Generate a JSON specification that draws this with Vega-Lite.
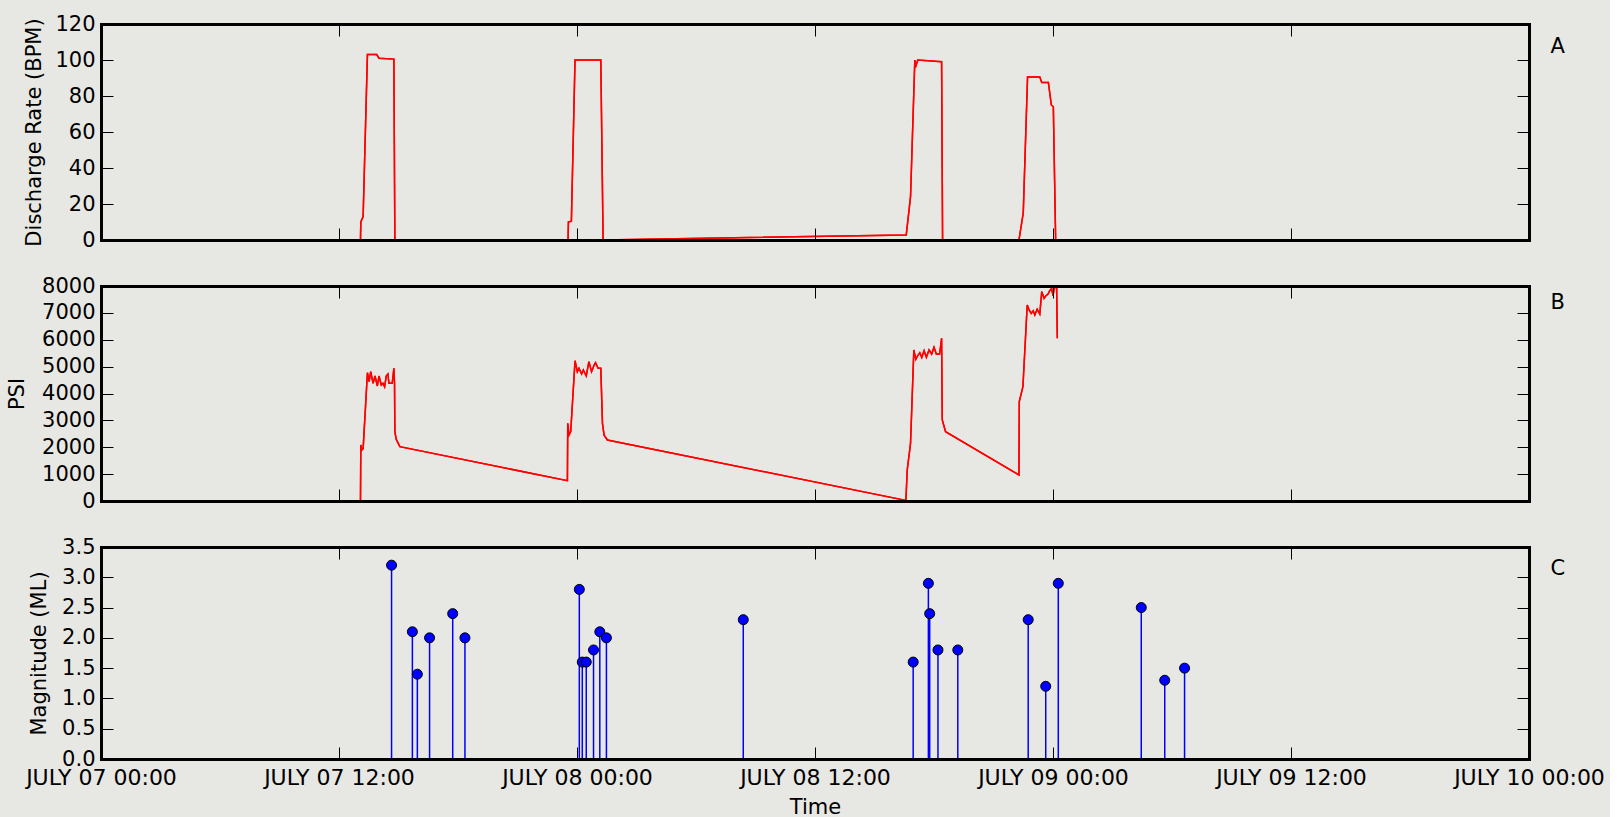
{
  "$schema": "https://vega.github.io/schema/vega-lite/v6.json",
  "background": "#e7e7e3",
  "padding": {"left": 6, "top": 13, "right": 5, "bottom": 2},
  "bounds": "flush",
  "spacing": 46,
  "config": {
    "font": "DejaVu Sans",
    "view": {"stroke": null},
    "axis": {
      "domain": true, "domainColor": "black", "domainWidth": 3, "domainCap": "square",
      "grid": false, "tickColor": "black", "tickSize": -12, "tickWidth": 1,
      "labelFontSize": 21, "titleFontSize": 21, "titleFontWeight": "normal",
      "labelColor": "black", "titleColor": "black", "labelPadding": 18,
      "labelFont": "DejaVu Sans", "titleFont": "DejaVu Sans"
    }
  },
  "datasets": {
    "rate": [
      {"time": "2014-07-07T13:05Z", "bpm": 0},
      {"time": "2014-07-07T13:06Z", "bpm": 10},
      {"time": "2014-07-07T13:13Z", "bpm": 13},
      {"time": "2014-07-07T13:26Z", "bpm": 103},
      {"time": "2014-07-07T13:54Z", "bpm": 103},
      {"time": "2014-07-07T14:01Z", "bpm": 101},
      {"time": "2014-07-07T14:46Z", "bpm": 100.5},
      {"time": "2014-07-07T14:49Z", "bpm": 0},
      {"time": "2014-07-07T23:33Z", "bpm": 0},
      {"time": "2014-07-07T23:34Z", "bpm": 10},
      {"time": "2014-07-07T23:43Z", "bpm": 10.5},
      {"time": "2014-07-07T23:54Z", "bpm": 100},
      {"time": "2014-07-08T01:12Z", "bpm": 100},
      {"time": "2014-07-08T01:19Z", "bpm": 0},
      {"time": "2014-07-08T16:36Z", "bpm": 2.8},
      {"time": "2014-07-08T16:49Z", "bpm": 24},
      {"time": "2014-07-08T17:02Z", "bpm": 100},
      {"time": "2014-07-08T17:04Z", "bpm": 96},
      {"time": "2014-07-08T17:11Z", "bpm": 100},
      {"time": "2014-07-08T18:23Z", "bpm": 99},
      {"time": "2014-07-08T18:26Z", "bpm": 0},
      {"time": "2014-07-08T22:17Z", "bpm": 0},
      {"time": "2014-07-08T22:30Z", "bpm": 15},
      {"time": "2014-07-08T22:43Z", "bpm": 90.5},
      {"time": "2014-07-08T23:20Z", "bpm": 90.5},
      {"time": "2014-07-08T23:26Z", "bpm": 87.5},
      {"time": "2014-07-08T23:46Z", "bpm": 87.5},
      {"time": "2014-07-08T23:55Z", "bpm": 75},
      {"time": "2014-07-09T00:01Z", "bpm": 74},
      {"time": "2014-07-09T00:08Z", "bpm": 0}
    ],
    "pressure": [
      {"time": "2014-07-07T13:05Z", "psi": 0},
      {"time": "2014-07-07T13:06Z", "psi": 2084},
      {"time": "2014-07-07T13:09Z", "psi": 1900},
      {"time": "2014-07-07T13:13Z", "psi": 1950},
      {"time": "2014-07-07T13:26Z", "psi": 4775},
      {"time": "2014-07-07T13:31Z", "psi": 4440},
      {"time": "2014-07-07T13:36Z", "psi": 4812},
      {"time": "2014-07-07T13:43Z", "psi": 4378},
      {"time": "2014-07-07T13:49Z", "psi": 4651},
      {"time": "2014-07-07T13:56Z", "psi": 4279},
      {"time": "2014-07-07T14:01Z", "psi": 4651},
      {"time": "2014-07-07T14:08Z", "psi": 4316},
      {"time": "2014-07-07T14:13Z", "psi": 4378},
      {"time": "2014-07-07T14:18Z", "psi": 4253},
      {"time": "2014-07-07T14:23Z", "psi": 4651},
      {"time": "2014-07-07T14:28Z", "psi": 4726},
      {"time": "2014-07-07T14:31Z", "psi": 4378},
      {"time": "2014-07-07T14:41Z", "psi": 4378},
      {"time": "2014-07-07T14:46Z", "psi": 4936},
      {"time": "2014-07-07T14:48Z", "psi": 4378},
      {"time": "2014-07-07T14:49Z", "psi": 2580},
      {"time": "2014-07-07T14:53Z", "psi": 2300},
      {"time": "2014-07-07T15:04Z", "psi": 2022},
      {"time": "2014-07-07T23:31Z", "psi": 756},
      {"time": "2014-07-07T23:32Z", "psi": 2890},
      {"time": "2014-07-07T23:36Z", "psi": 2456},
      {"time": "2014-07-07T23:41Z", "psi": 2580},
      {"time": "2014-07-07T23:54Z", "psi": 5221},
      {"time": "2014-07-08T00:01Z", "psi": 4812},
      {"time": "2014-07-08T00:06Z", "psi": 4936},
      {"time": "2014-07-08T00:14Z", "psi": 4726},
      {"time": "2014-07-08T00:19Z", "psi": 4874},
      {"time": "2014-07-08T00:28Z", "psi": 4651},
      {"time": "2014-07-08T00:36Z", "psi": 5184},
      {"time": "2014-07-08T00:44Z", "psi": 4812},
      {"time": "2014-07-08T00:52Z", "psi": 5060},
      {"time": "2014-07-08T00:56Z", "psi": 5147},
      {"time": "2014-07-08T01:04Z", "psi": 4936},
      {"time": "2014-07-08T01:12Z", "psi": 4936},
      {"time": "2014-07-08T01:17Z", "psi": 2890},
      {"time": "2014-07-08T01:22Z", "psi": 2450},
      {"time": "2014-07-08T01:32Z", "psi": 2270},
      {"time": "2014-07-08T16:35Z", "psi": 20},
      {"time": "2014-07-08T16:39Z", "psi": 1153},
      {"time": "2014-07-08T16:49Z", "psi": 2146},
      {"time": "2014-07-08T16:59Z", "psi": 5619},
      {"time": "2014-07-08T17:05Z", "psi": 5271},
      {"time": "2014-07-08T17:10Z", "psi": 5395},
      {"time": "2014-07-08T17:17Z", "psi": 5519},
      {"time": "2014-07-08T17:23Z", "psi": 5346},
      {"time": "2014-07-08T17:30Z", "psi": 5593},
      {"time": "2014-07-08T17:37Z", "psi": 5346},
      {"time": "2014-07-08T17:45Z", "psi": 5619},
      {"time": "2014-07-08T17:53Z", "psi": 5470},
      {"time": "2014-07-08T18:00Z", "psi": 5718},
      {"time": "2014-07-08T18:07Z", "psi": 5470},
      {"time": "2014-07-08T18:17Z", "psi": 5470},
      {"time": "2014-07-08T18:23Z", "psi": 6053},
      {"time": "2014-07-08T18:25Z", "psi": 3014},
      {"time": "2014-07-08T18:35Z", "psi": 2580},
      {"time": "2014-07-08T22:17Z", "psi": 967},
      {"time": "2014-07-08T22:18Z", "psi": 3696},
      {"time": "2014-07-08T22:29Z", "psi": 4253},
      {"time": "2014-07-08T22:42Z", "psi": 7293},
      {"time": "2014-07-08T22:47Z", "psi": 7132},
      {"time": "2014-07-08T22:54Z", "psi": 6983},
      {"time": "2014-07-08T23:00Z", "psi": 7082},
      {"time": "2014-07-08T23:05Z", "psi": 6921},
      {"time": "2014-07-08T23:12Z", "psi": 7132},
      {"time": "2014-07-08T23:20Z", "psi": 6958},
      {"time": "2014-07-08T23:26Z", "psi": 7789},
      {"time": "2014-07-08T23:33Z", "psi": 7541},
      {"time": "2014-07-08T23:38Z", "psi": 7628},
      {"time": "2014-07-08T23:45Z", "psi": 7702},
      {"time": "2014-07-08T23:50Z", "psi": 7826},
      {"time": "2014-07-08T23:56Z", "psi": 7913},
      {"time": "2014-07-09T00:00Z", "psi": 7628},
      {"time": "2014-07-09T00:03Z", "psi": 7876},
      {"time": "2014-07-09T00:08Z", "psi": 8000},
      {"time": "2014-07-09T00:11Z", "psi": 7980},
      {"time": "2014-07-09T00:13Z", "psi": 6053}
    ],
    "quakes": [
      {"time": "2014-07-07T14:39Z", "ml": 3.2},
      {"time": "2014-07-07T15:42Z", "ml": 2.1},
      {"time": "2014-07-07T15:57Z", "ml": 1.4},
      {"time": "2014-07-07T16:34Z", "ml": 2.0},
      {"time": "2014-07-07T17:44Z", "ml": 2.4},
      {"time": "2014-07-07T18:21Z", "ml": 2.0},
      {"time": "2014-07-08T00:07Z", "ml": 2.8},
      {"time": "2014-07-08T00:16Z", "ml": 1.6},
      {"time": "2014-07-08T00:28Z", "ml": 1.6},
      {"time": "2014-07-08T00:50Z", "ml": 1.8},
      {"time": "2014-07-08T01:09Z", "ml": 2.1},
      {"time": "2014-07-08T01:29Z", "ml": 2.0},
      {"time": "2014-07-08T08:23Z", "ml": 2.3},
      {"time": "2014-07-08T16:57Z", "ml": 1.6},
      {"time": "2014-07-08T17:43Z", "ml": 2.9},
      {"time": "2014-07-08T17:47Z", "ml": 2.4},
      {"time": "2014-07-08T18:12Z", "ml": 1.8},
      {"time": "2014-07-08T19:12Z", "ml": 1.8},
      {"time": "2014-07-08T22:45Z", "ml": 2.3},
      {"time": "2014-07-08T23:38Z", "ml": 1.2},
      {"time": "2014-07-09T00:16Z", "ml": 2.9},
      {"time": "2014-07-09T04:27Z", "ml": 2.5},
      {"time": "2014-07-09T05:38Z", "ml": 1.3},
      {"time": "2014-07-09T06:38Z", "ml": 1.5}
    ]
  },
  "vconcat": [
    {
      "width": 1428, "height": 216,
      "data": {"name": "rate"},
      "layer": [
        {
          "mark": {"type": "line", "color": "#ff0000", "strokeWidth": 1.5},
          "encoding": {
            "x": {"field": "time", "type": "temporal",
              "scale": {"type": "utc", "domain": [{"year": 2014, "month": 7, "date": 7, "utc": true}, {"year": 2014, "month": 7, "date": 10, "utc": true}]},
              "axis": {"orient": "bottom", "labels": false, "title": null, "zindex": 2,
                "values": [{"year": 2014, "month": 7, "date": 7, "hours": 0, "utc": true}, {"year": 2014, "month": 7, "date": 7, "hours": 12, "utc": true}, {"year": 2014, "month": 7, "date": 8, "hours": 0, "utc": true}, {"year": 2014, "month": 7, "date": 8, "hours": 12, "utc": true}, {"year": 2014, "month": 7, "date": 9, "hours": 0, "utc": true}, {"year": 2014, "month": 7, "date": 9, "hours": 12, "utc": true}, {"year": 2014, "month": 7, "date": 10, "hours": 0, "utc": true}]}},
            "y": {"field": "bpm", "type": "quantitative", "scale": {"domain": [0, 120]},
              "axis": {"title": "Discharge Rate (BPM)", "values": [0, 20, 40, 60, 80, 100, 120], "titlePadding": 10, "zindex": 2}}
          }
        },
        {
          "mark": {"type": "line", "color": "#ff0000", "strokeWidth": 1.5},
          "encoding": {
            "x": {"field": "time", "type": "temporal",
              "scale": {"type": "utc", "domain": [{"year": 2014, "month": 7, "date": 7, "utc": true}, {"year": 2014, "month": 7, "date": 10, "utc": true}]},
              "axis": {"orient": "top", "labels": false, "title": null, "zindex": 2,
                "values": [{"year": 2014, "month": 7, "date": 7, "hours": 0, "utc": true}, {"year": 2014, "month": 7, "date": 7, "hours": 12, "utc": true}, {"year": 2014, "month": 7, "date": 8, "hours": 0, "utc": true}, {"year": 2014, "month": 7, "date": 8, "hours": 12, "utc": true}, {"year": 2014, "month": 7, "date": 9, "hours": 0, "utc": true}, {"year": 2014, "month": 7, "date": 9, "hours": 12, "utc": true}, {"year": 2014, "month": 7, "date": 10, "hours": 0, "utc": true}]}},
            "y": {"field": "bpm", "type": "quantitative", "scale": {"domain": [0, 120]},
              "axis": {"orient": "right", "labels": false, "values": [0, 20, 40, 60, 80, 100, 120], "zindex": 2,
                "title": "A", "titleAngle": 0, "titleAlign": "left", "titleBaseline": "middle", "titleX": 21, "titleY": 22}}
          }
        }
      ],
      "resolve": {"scale": {"x": "independent", "y": "independent"}, "axis": {"x": "independent", "y": "independent"}}
    },
    {
      "width": 1428, "height": 215,
      "data": {"name": "pressure"},
      "layer": [
        {
          "mark": {"type": "line", "color": "#ff0000", "strokeWidth": 1.5},
          "encoding": {
            "x": {"field": "time", "type": "temporal",
              "scale": {"type": "utc", "domain": [{"year": 2014, "month": 7, "date": 7, "utc": true}, {"year": 2014, "month": 7, "date": 10, "utc": true}]},
              "axis": {"orient": "bottom", "labels": false, "title": null, "zindex": 2,
                "values": [{"year": 2014, "month": 7, "date": 7, "hours": 0, "utc": true}, {"year": 2014, "month": 7, "date": 7, "hours": 12, "utc": true}, {"year": 2014, "month": 7, "date": 8, "hours": 0, "utc": true}, {"year": 2014, "month": 7, "date": 8, "hours": 12, "utc": true}, {"year": 2014, "month": 7, "date": 9, "hours": 0, "utc": true}, {"year": 2014, "month": 7, "date": 9, "hours": 12, "utc": true}, {"year": 2014, "month": 7, "date": 10, "hours": 0, "utc": true}]}},
            "y": {"field": "psi", "type": "quantitative", "scale": {"domain": [0, 8000]},
              "axis": {"title": "PSI", "values": [0, 1000, 2000, 3000, 4000, 5000, 6000, 7000, 8000], "format": "d", "titlePadding": 14, "zindex": 2}}
          }
        },
        {
          "mark": {"type": "line", "color": "#ff0000", "strokeWidth": 1.5},
          "encoding": {
            "x": {"field": "time", "type": "temporal",
              "scale": {"type": "utc", "domain": [{"year": 2014, "month": 7, "date": 7, "utc": true}, {"year": 2014, "month": 7, "date": 10, "utc": true}]},
              "axis": {"orient": "top", "labels": false, "title": null, "zindex": 2,
                "values": [{"year": 2014, "month": 7, "date": 7, "hours": 0, "utc": true}, {"year": 2014, "month": 7, "date": 7, "hours": 12, "utc": true}, {"year": 2014, "month": 7, "date": 8, "hours": 0, "utc": true}, {"year": 2014, "month": 7, "date": 8, "hours": 12, "utc": true}, {"year": 2014, "month": 7, "date": 9, "hours": 0, "utc": true}, {"year": 2014, "month": 7, "date": 9, "hours": 12, "utc": true}, {"year": 2014, "month": 7, "date": 10, "hours": 0, "utc": true}]}},
            "y": {"field": "psi", "type": "quantitative", "scale": {"domain": [0, 8000]},
              "axis": {"orient": "right", "labels": false, "values": [0, 1000, 2000, 3000, 4000, 5000, 6000, 7000, 8000], "zindex": 2,
                "title": "B", "titleAngle": 0, "titleAlign": "left", "titleBaseline": "middle", "titleX": 21, "titleY": 16}}
          }
        }
      ],
      "resolve": {"scale": {"x": "independent", "y": "independent"}, "axis": {"x": "independent", "y": "independent"}}
    },
    {
      "width": 1428, "height": 212,
      "data": {"name": "quakes"},
      "layer": [
        {
          "mark": {"type": "rule", "color": "#0000ff", "strokeWidth": 1.5},
          "encoding": {
            "x": {"field": "time", "type": "temporal",
              "scale": {"type": "utc", "domain": [{"year": 2014, "month": 7, "date": 7, "utc": true}, {"year": 2014, "month": 7, "date": 10, "utc": true}]},
              "axis": {"orient": "bottom", "title": "Time", "titlePadding": 8, "labelFontSize": 22, "labelPadding": 20, "zindex": 2,
                "labelExpr": "upper(utcFormat(datum.value, '%B %d %H:%M'))",
                "labelOverlap": false, "labelFlush": false, "labelBound": false,
                "values": [{"year": 2014, "month": 7, "date": 7, "hours": 0, "utc": true}, {"year": 2014, "month": 7, "date": 7, "hours": 12, "utc": true}, {"year": 2014, "month": 7, "date": 8, "hours": 0, "utc": true}, {"year": 2014, "month": 7, "date": 8, "hours": 12, "utc": true}, {"year": 2014, "month": 7, "date": 9, "hours": 0, "utc": true}, {"year": 2014, "month": 7, "date": 9, "hours": 12, "utc": true}, {"year": 2014, "month": 7, "date": 10, "hours": 0, "utc": true}]}},
            "y": {"field": "ml", "type": "quantitative", "scale": {"domain": [0, 3.5]},
              "axis": {"title": "Magnitude (ML)", "values": [0, 0.5, 1, 1.5, 2, 2.5, 3, 3.5], "format": ".1f", "titlePadding": 12, "zindex": 2}},
            "y2": {"datum": 0}
          }
        },
        {
          "mark": {"type": "point", "filled": true, "fill": "#0000ff", "stroke": "black", "strokeWidth": 1, "size": 100, "opacity": 1},
          "encoding": {
            "x": {"field": "time", "type": "temporal",
              "scale": {"type": "utc", "domain": [{"year": 2014, "month": 7, "date": 7, "utc": true}, {"year": 2014, "month": 7, "date": 10, "utc": true}]},
              "axis": {"orient": "top", "labels": false, "title": null, "zindex": 2,
                "values": [{"year": 2014, "month": 7, "date": 7, "hours": 0, "utc": true}, {"year": 2014, "month": 7, "date": 7, "hours": 12, "utc": true}, {"year": 2014, "month": 7, "date": 8, "hours": 0, "utc": true}, {"year": 2014, "month": 7, "date": 8, "hours": 12, "utc": true}, {"year": 2014, "month": 7, "date": 9, "hours": 0, "utc": true}, {"year": 2014, "month": 7, "date": 9, "hours": 12, "utc": true}, {"year": 2014, "month": 7, "date": 10, "hours": 0, "utc": true}]}},
            "y": {"field": "ml", "type": "quantitative", "scale": {"domain": [0, 3.5]},
              "axis": {"orient": "right", "labels": false, "values": [0, 0.5, 1, 1.5, 2, 2.5, 3, 3.5], "zindex": 2,
                "title": "C", "titleAngle": 0, "titleAlign": "left", "titleBaseline": "middle", "titleX": 21, "titleY": 21}}
          }
        }
      ],
      "resolve": {"scale": {"x": "independent", "y": "independent"}, "axis": {"x": "independent", "y": "independent"}}
    }
  ]
}
